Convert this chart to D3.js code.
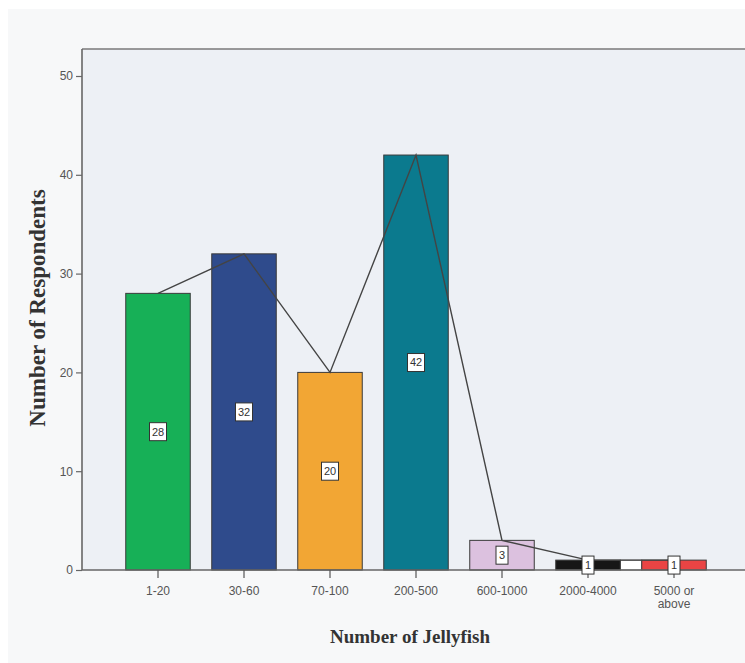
<!DOCTYPE html>
<html>
<head>
<meta charset="utf-8">
<script src="https://cdn.jsdelivr.net/npm/d3@7"></script>
<style>
  html, body { margin: 0; padding: 0; background: #ffffff; }
  svg { display: block; }
</style>
</head>
<body>
<svg id="chart" width="745" height="663"></svg>
<script>
// Jellyfish sightings: respondents per count range
const categories = ["1-20", "30-60", "70-100", "200-500", "600-1000", "2000-4000", "5000 or above"];
const tickLabels = [["1-20"], ["30-60"], ["70-100"], ["200-500"], ["600-1000"], ["2000-4000"], ["5000 or", "above"]];
const respondents = [28, 32, 20, 42, 3, 1, 1];
const barColors = ["#17b057", "#2f4b8c", "#f2a634", "#0b7a8e", "#dcc1df", "#161616", "#ea4444"];
const yTicks = [0, 10, 20, 30, 40, 50];

const svg = d3.select("#chart");
const W = 745, H = 663;
const plot = { left: 82, top: 49, right: 745, bottom: 570 };

// page and panel backgrounds
svg.append("rect").attr("x", 0).attr("y", 0).attr("width", W).attr("height", H).attr("fill", "#ffffff");
svg.append("rect").attr("x", 8).attr("y", 9).attr("width", W - 8).attr("height", H - 9).attr("fill", "#f7f8f9");
svg.append("rect")
  .attr("x", plot.left).attr("y", plot.top)
  .attr("width", plot.right - plot.left).attr("height", plot.bottom - plot.top)
  .attr("fill", "#edf0f5");

const x = d3.scaleBand().domain(categories).range([115, 717]).paddingInner(0.25).paddingOuter(0.125);
const y = d3.scaleLinear().domain([0, 50]).range([570, 76]);
const cx = c => x(c) + x.bandwidth() / 2;

// white filler between the two smallest adjacent bars
svg.append("rect")
  .attr("x", x(categories[5]) + x.bandwidth())
  .attr("y", y(respondents[5]))
  .attr("width", x(categories[6]) - x(categories[5]) - x.bandwidth())
  .attr("height", y(0) - y(respondents[5]))
  .attr("fill", "#ffffff")
  .attr("stroke", "#555").attr("stroke-width", 0.8);

// bars
svg.append("g").selectAll("rect")
  .data(categories)
  .join("rect")
  .attr("x", d => x(d))
  .attr("y", (d, i) => y(respondents[i]))
  .attr("width", x.bandwidth())
  .attr("height", (d, i) => y(0) - y(respondents[i]))
  .attr("fill", (d, i) => barColors[i])
  .attr("stroke", "#3a3a3a").attr("stroke-width", 1);

// line through bar tops
const line = d3.line().x(d => cx(d.c)).y(d => y(d.v));
svg.append("path")
  .datum(categories.map((c, i) => ({ c, v: respondents[i] })))
  .attr("d", line)
  .attr("fill", "none")
  .attr("stroke", "#444").attr("stroke-width", 1.4);

// frame: top border
svg.append("line").attr("x1", plot.left).attr("x2", plot.right).attr("y1", plot.top).attr("y2", plot.top)
  .attr("stroke", "#7a7a7a").attr("stroke-width", 1.6);

// y axis
const yAxis = d3.axisLeft(y).tickValues(yTicks).tickSize(6).tickPadding(3).tickFormat(d3.format("d"));
const gy = svg.append("g").attr("transform", `translate(${plot.left},0)`).call(yAxis);
gy.select(".domain").attr("d", `M0,${plot.top}V${plot.bottom}`).attr("stroke", "#666").attr("stroke-width", 1.6);
gy.selectAll(".tick line").attr("stroke", "#666").attr("stroke-width", 1.2);
gy.selectAll(".tick text").attr("fill", "#555").style("font-family", "Liberation Sans, Arial, sans-serif").style("font-size", "12px");

// x axis
const xAxis = d3.axisBottom(x).tickSize(8).tickFormat("");
const gx = svg.append("g").attr("transform", `translate(0,${plot.bottom})`).call(xAxis);
gx.select(".domain").attr("d", `M${plot.left},0H${plot.right}`).attr("stroke", "#666").attr("stroke-width", 1.6);
gx.selectAll(".tick line").attr("stroke", "#555").attr("stroke-width", 1.2);
gx.selectAll(".tick").each(function (d, i) {
  const t = d3.select(this).append("text")
    .attr("fill", "#555")
    .attr("text-anchor", "middle")
    .style("font-family", "Liberation Sans, Arial, sans-serif")
    .style("font-size", "12px");
  tickLabels[i].forEach((s, k) => {
    t.append("tspan").attr("x", 0).attr("y", 25 + k * 13).text(s);
  });
});

// value labels in boxes at bar mid-height
const lab = svg.append("g").selectAll("g")
  .data(categories)
  .join("g")
  .attr("transform", (d, i) => `translate(${cx(d)},${y(respondents[i] / 2)})`);
lab.append("rect")
  .attr("x", (d, i) => respondents[i] >= 10 ? -8.5 : -6)
  .attr("y", -9)
  .attr("width", (d, i) => respondents[i] >= 10 ? 17 : 12)
  .attr("height", 18)
  .attr("fill", "#ffffff")
  .attr("stroke", "#333").attr("stroke-width", 1);
lab.append("text")
  .attr("text-anchor", "middle")
  .attr("dy", "0.36em")
  .attr("fill", "#333")
  .style("font-family", "Liberation Sans, Arial, sans-serif")
  .style("font-size", "11px")
  .text((d, i) => respondents[i]);

// axis titles
svg.append("text")
  .attr("x", 410).attr("y", 643)
  .attr("text-anchor", "middle")
  .attr("fill", "#333")
  .style("font-family", "Liberation Serif, Times New Roman, serif")
  .style("font-weight", "bold")
  .style("font-size", "19px")
  .text("Number of Jellyfish");

svg.append("text")
  .attr("transform", "translate(45,308) rotate(-90)")
  .attr("text-anchor", "middle")
  .attr("fill", "#333")
  .style("font-family", "Liberation Serif, Times New Roman, serif")
  .style("font-weight", "bold")
  .style("font-size", "23px")
  .text("Number of Respondents");
</script>
</body>
</html>
